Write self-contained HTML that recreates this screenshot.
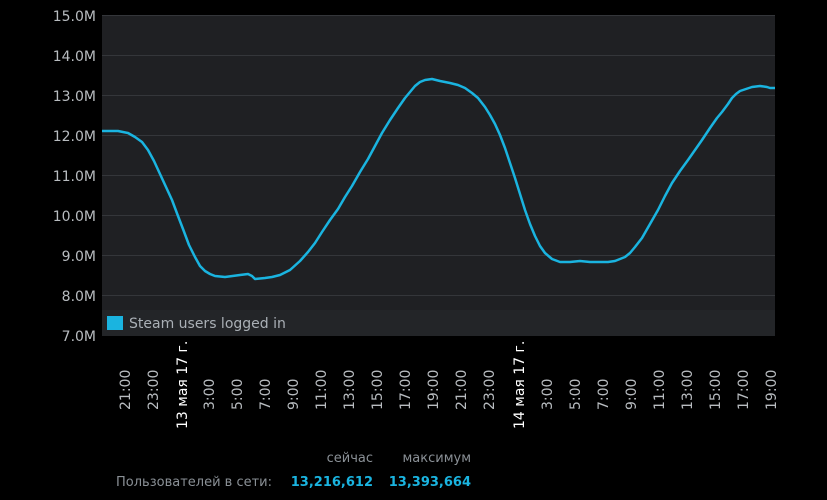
<!DOCTYPE html>
<html><head><meta charset="utf-8"><style>
html,body{margin:0;padding:0;background:#000;}
body{width:827px;height:500px;overflow:hidden;font-family:"DejaVu Sans","Liberation Sans",sans-serif;}
</style></head><body>
<svg width="827" height="500" xmlns="http://www.w3.org/2000/svg" style="display:block">
<rect x="0" y="0" width="827" height="500" fill="#000"/>
<rect x="102" y="15" width="673" height="321" fill="#1f2023"/>
<g stroke="#34363a" stroke-width="1">
<line x1="102" x2="775" y1="15.5" y2="15.5"/>
<line x1="102" x2="775" y1="55.5" y2="55.5"/>
<line x1="102" x2="775" y1="95.5" y2="95.5"/>
<line x1="102" x2="775" y1="135.5" y2="135.5"/>
<line x1="102" x2="775" y1="175.5" y2="175.5"/>
<line x1="102" x2="775" y1="215.5" y2="215.5"/>
<line x1="102" x2="775" y1="255.5" y2="255.5"/>
<line x1="102" x2="775" y1="295.5" y2="295.5"/>
</g>
<rect x="102" y="310" width="673" height="26" fill="#232528"/>
<g fill="#b8bcc0" font-size="14" text-anchor="end">
<text x="96" y="21">15.0M</text>
<text x="96" y="61">14.0M</text>
<text x="96" y="101">13.0M</text>
<text x="96" y="141">12.0M</text>
<text x="96" y="181">11.0M</text>
<text x="96" y="221">10.0M</text>
<text x="96" y="261">9.0M</text>
<text x="96" y="301">8.0M</text>
<text x="96" y="341">7.0M</text>
</g>
<polyline fill="none" stroke="#1ab4e0" stroke-width="2.5" stroke-linejoin="round" points="102,131 118,131 128,133 135,137 142,142 148,150 154,161 160,174 166,187 172,200 178,216 183,229 189,245 195,257 200,266 205,271 210,274 215,276 225,277 240,275 248,274 252,276 255,279 265,278 272,277 280,275 290,270 300,261 308,252 315,243 322,232 330,220 338,209 345,197 352,186 360,172 368,159 375,146 382,133 390,120 398,108 405,98 410,92 415,86 420,82 425,80 432,79 440,81 450,83 458,85 465,88 472,93 478,98 485,107 490,115 495,124 500,135 505,148 510,163 515,178 520,194 525,210 530,224 535,236 540,246 545,253 552,259 560,262 570,262 580,261 590,262 600,262 608,262 615,261 620,259 625,257 630,253 635,247 642,238 650,224 658,210 665,196 672,183 680,171 688,160 695,150 702,140 710,128 717,118 722,112 728,104 732,98 736,94 740,91 746,89 752,87 760,86 767,87 770,88 775,88"/>
<rect x="107" y="316" width="16" height="14" fill="#1ab4e0"/>
<text x="129" y="328" fill="#aab0b6" font-size="14">Steam users logged in</text>
<g fill="#b8bcc0" font-size="14">
<text transform="translate(130,410) rotate(-90)">21:00</text>
<text transform="translate(158,410) rotate(-90)">23:00</text>
<text transform="translate(214,410) rotate(-90)">3:00</text>
<text transform="translate(242,410) rotate(-90)">5:00</text>
<text transform="translate(270,410) rotate(-90)">7:00</text>
<text transform="translate(298,410) rotate(-90)">9:00</text>
<text transform="translate(326,410) rotate(-90)">11:00</text>
<text transform="translate(354,410) rotate(-90)">13:00</text>
<text transform="translate(382,410) rotate(-90)">15:00</text>
<text transform="translate(410,410) rotate(-90)">17:00</text>
<text transform="translate(438,410) rotate(-90)">19:00</text>
<text transform="translate(466,410) rotate(-90)">21:00</text>
<text transform="translate(494,410) rotate(-90)">23:00</text>
<text transform="translate(552,410) rotate(-90)">3:00</text>
<text transform="translate(580,410) rotate(-90)">5:00</text>
<text transform="translate(608,410) rotate(-90)">7:00</text>
<text transform="translate(636,410) rotate(-90)">9:00</text>
<text transform="translate(664,410) rotate(-90)">11:00</text>
<text transform="translate(692,410) rotate(-90)">13:00</text>
<text transform="translate(720,410) rotate(-90)">15:00</text>
<text transform="translate(748,410) rotate(-90)">17:00</text>
<text transform="translate(776,410) rotate(-90)">19:00</text>
</g>
<g fill="#ffffff" font-size="14">
<text transform="translate(187,429) rotate(-90)">13 мая 17 г.</text>
<text transform="translate(524,429) rotate(-90)">14 мая 17 г.</text>
</g>
<g font-size="13">
<text x="373" y="462" fill="#8a9096" text-anchor="end">сейчас</text>
<text x="471" y="462" fill="#8a9096" text-anchor="end">максимум</text>
<text x="272" y="486" fill="#8a9096" text-anchor="end">Пользователей в сети:</text>
<text x="373" y="486" fill="#1ab4e0" font-weight="bold" text-anchor="end">13,216,612</text>
<text x="471" y="486" fill="#1ab4e0" font-weight="bold" text-anchor="end">13,393,664</text>
</g>
</svg>
</body></html>
